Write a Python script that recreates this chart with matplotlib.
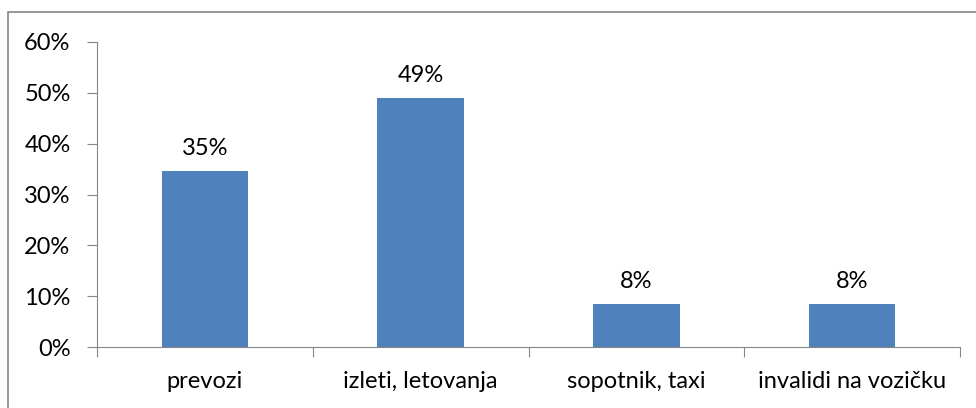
import matplotlib.pyplot as plt
from matplotlib.patches import Rectangle
from matplotlib.ticker import PercentFormatter

categories = ['prevozi', 'izleti, letovanja', 'sopotnik, taxi', 'invalidi na vozičku']
values = [34.6, 48.9, 8.4, 8.4]
labels = ['35%', '49%', '8%', '8%']

plt.rcParams['font.family'] = ['Lato', 'DejaVu Sans']

fig = plt.figure(figsize=(9.76, 4.08), dpi=100)
ax = fig.add_axes([97 / 976, 1 - 347 / 408, (960 - 97) / 976, (347 - 42) / 408])

x = range(len(categories))
ax.bar(x, values, width=0.4, color='#4f81bd')
for i, v in enumerate(values):
    ax.annotate(labels[i], (i, v), xytext=(0, 9), textcoords='offset points',
                ha='center', va='bottom', fontsize=17)

ax.set_xlim(-0.5, len(categories) - 0.5)
ax.set_ylim(0, 60)
ax.set_yticks(range(0, 61, 10))
ax.yaxis.set_major_formatter(PercentFormatter(decimals=0))
ax.set_xticks([i - 0.5 for i in range(len(categories) + 1)])
ax.set_xticklabels([])
ax.set_xticks(list(x), minor=True)
ax.set_xticklabels(categories, minor=True)
ax.tick_params(axis='x', which='minor', length=0, pad=17, labelsize=17)
ax.tick_params(axis='x', which='major', length=7, color='#868686')
ax.tick_params(axis='y', length=7, color='#868686', pad=12, labelsize=17)

for s in ['top', 'right']:
    ax.spines[s].set_visible(False)
for s in ['left', 'bottom']:
    ax.spines[s].set_color('#868686')

fig.patches.append(Rectangle((8 / 976, -0.1), 1.2, 1 - 12 / 408 + 0.1,
                             transform=fig.transFigure, fill=False,
                             edgecolor='#868686', linewidth=1.2))

fig.savefig('out.png', dpi=100)
